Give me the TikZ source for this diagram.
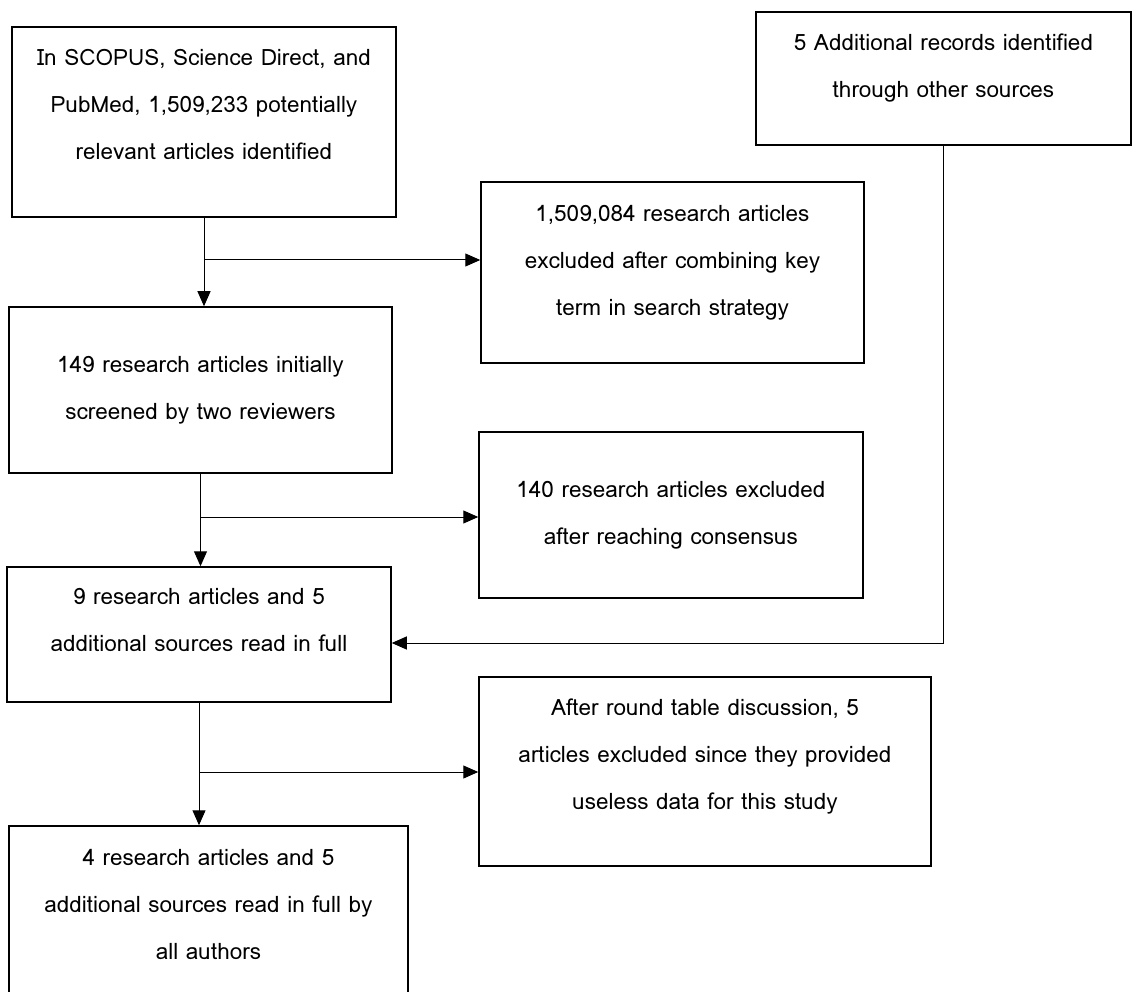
\documentclass[tikz,border=0pt]{standalone}
\usepackage{fontspec}
\newfontfamily\lomafont[Script=Thai]{Loma}
\usetikzlibrary{arrows.meta}
\begin{document}
\begin{tikzpicture}[x=1pt, y=-1pt, >={Triangle[length=15pt,width=13pt]},
    box/.style={draw, line width=1.5pt, align=center, inner sep=0pt,
        font=\lomafont\fontsize{22.5}{47}\selectfont},
    lift/.style={text depth=#1},
    link/.style={line width=1pt}]
    \useasboundingbox (0,0) rectangle (1133,992);

    % Boxes of the main flow on the left
    \node[box, lift=35pt, minimum width=384, minimum height=190] (src) at (204,122)
        {In SCOPUS, Science Direct, and\\PubMed, 1,509,233 potentially\\relevant articles identified};
    \node[box, minimum width=383, minimum height=166] (screen) at (200.5,390)
        {149 research articles initially\\screened by two reviewers};
    \node[box, lift=29pt, minimum width=384, minimum height=135] (full) at (199,634.5)
        {9 research articles and 5\\additional sources read in full};
    \node[box, lift=13pt, minimum width=399, minimum height=170] (final) at (208.5,911)
        {4 research articles and 5\\additional sources read in full by\\all authors};

    % Boxes on the right
    \node[box, lift=25pt, minimum width=375, minimum height=133] (extra) at (943.5,78.5)
        {5 Additional records identified\\through other sources};
    \node[box, lift=25pt, minimum width=383, minimum height=181] (excl1) at (672.5,272.5)
        {1,509,084 research articles\\excluded after combining key\\term in search strategy};
    \node[box, minimum width=384, minimum height=166] (excl2) at (671,515)
        {140 research articles excluded\\after reaching consensus};
    \node[box, lift=35pt, minimum width=452, minimum height=189] (excl3) at (705,771.5)
        {After round table discussion, 5\\articles excluded since they provided\\useless data for this study};

    % Branch points
    \coordinate (j1) at (204,260);
    \coordinate (j2) at (200,517);
    \coordinate (j3) at (199,772);
    \coordinate (bend) at (943.5,643);

    % Connectors
    \draw[link, ->] (src.south) -- (src.south |- screen.north);
    \draw[link, ->] (j1) -- (j1 -| excl1.west);
    \draw[link, ->] (screen.south) -- (screen.south |- full.north);
    \draw[link, ->] (j2) -- (j2 -| excl2.west);
    \draw[link, ->] (full.south) -- (full.south |- final.north);
    \draw[link, ->] (j3) -- (j3 -| excl3.west);
    \draw[link, ->] (extra.south) -- (bend) -- (bend -| full.east);
\end{tikzpicture}
\end{document}
